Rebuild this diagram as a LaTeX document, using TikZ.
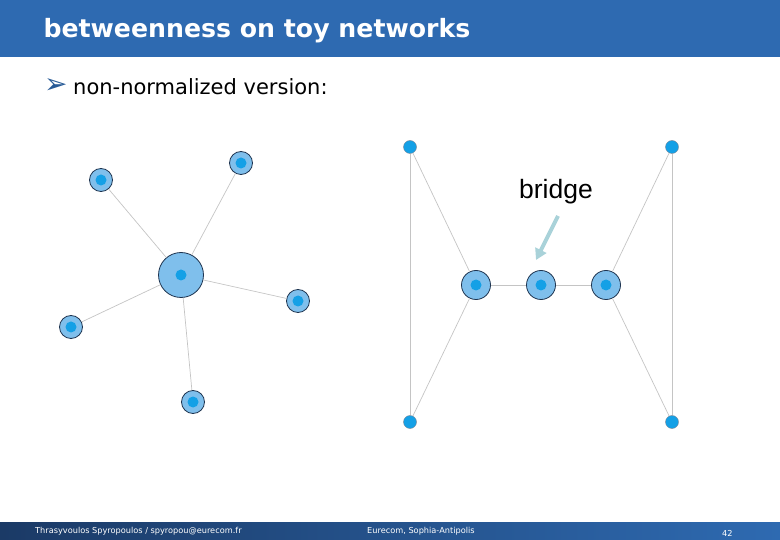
\documentclass[tikz,border=0pt]{standalone}
\usepackage{fontspec}
\setmainfont{DejaVu Sans}
\newfontfamily\bridgefont{Liberation Sans}
\usepackage{xcolor}
\usetikzlibrary{arrows.meta, positioning}
\definecolor{barblue}{HTML}{2E6AB1}
\definecolor{barnavy}{HTML}{1B3A66}
\definecolor{nodefill}{HTML}{7FBFEC}
\definecolor{nodecore}{HTML}{14A0E6}
\definecolor{nodeline}{HTML}{1E3450}
\definecolor{edgegray}{HTML}{C4C4C4}
\definecolor{hintteal}{HTML}{A9D2D9}
\tikzset{
  vertex/.style={circle, draw=nodeline, line width=0.8pt, fill=nodefill, minimum size=#1, inner sep=0pt,
                 path picture={\fill[nodecore] (path picture bounding box.center) circle (5.5pt);}},
  vertex/.default=23pt,
  corner/.style={circle, draw=nodeline!60, line width=0.4pt, fill=nodecore, minimum size=13pt, inner sep=0pt},
  edge/.style={draw=edgegray, line width=0.7pt},
  hintarrow/.style={-{Triangle[length=11pt, width=12pt]}, line width=4pt, hintteal},
  footnote/.style={font=\fontsize{8.2}{9}\selectfont, text=white, anchor=west, inner sep=0pt}
}

\begin{document}
\begin{tikzpicture}[x=1pt, y=-1pt]

% Frame
\useasboundingbox (0,0) rectangle (780,540);
\fill[barblue] (0,0) rectangle (780,57);
\shade[left color=barnavy, right color=barblue] (0,522) rectangle (780,540);

% Title
\node[anchor=west, text=white, font=\fontsize{25.2}{30}\bfseries\selectfont] (title) at (40,31) {betweenness on toy networks};
\node[anchor=west, text=barblue!85!black, font=\fontsize{28}{30}\selectfont, inner sep=0pt] (bullet) at (44,86) {➢};
\node[anchor=west, font=\fontsize{21}{24}\selectfont, inner sep=0pt] (subtitle) at (73,87) {non-normalized version:};

% Star network
\node[vertex=45pt] (hub) at (181,275) {};
\node[vertex] (sa) at (101,180) {};
\node[vertex] (sb) at (241,163) {};
\node[vertex] (sc) at (298,301) {};
\node[vertex] (sd) at (71,327) {};
\node[vertex] (se) at (193,402) {};
\foreach \leaf in {sa, sb, sc, sd, se}
  \draw[edge] (hub) -- (\leaf);

% Bridge network
\node[corner] (tl) at (410,147) {};
\node[corner] (tr) at (672,147) {};
\node[corner] (bl) at (410,422) {};
\node[corner] (br) at (672,422) {};
\node[vertex=29pt] (left)   at (476,285) {};
\node[vertex=29pt] (middle) at (541,285) {};
\node[vertex=29pt] (right)  at (606,285) {};
\draw[edge] (tl) -- (bl);
\draw[edge] (tr) -- (br);
\draw[edge] (tl) -- (left);
\draw[edge] (bl) -- (left);
\draw[edge] (left) -- (middle);
\draw[edge] (middle) -- (right);
\draw[edge] (right) -- (tr);
\draw[edge] (right) -- (br);

% Annotation
\node[font=\bridgefont\fontsize{26.5}{30}\selectfont] (bridge) at (556,192) {bridge};
\coordinate (bridgetip) at (536,260);
\draw[hintarrow] (558,216) -- (bridgetip);

% Footer
\node[footnote] (author) at (35,531) {Thrasyvoulos Spyropoulos / spyropou@eurecom.fr};
\node[footnote] (place) at (367,531) {Eurecom, Sophia-Antipolis};
\node[footnote] (page) at (722,533) {42};

\end{tikzpicture}
\end{document}
